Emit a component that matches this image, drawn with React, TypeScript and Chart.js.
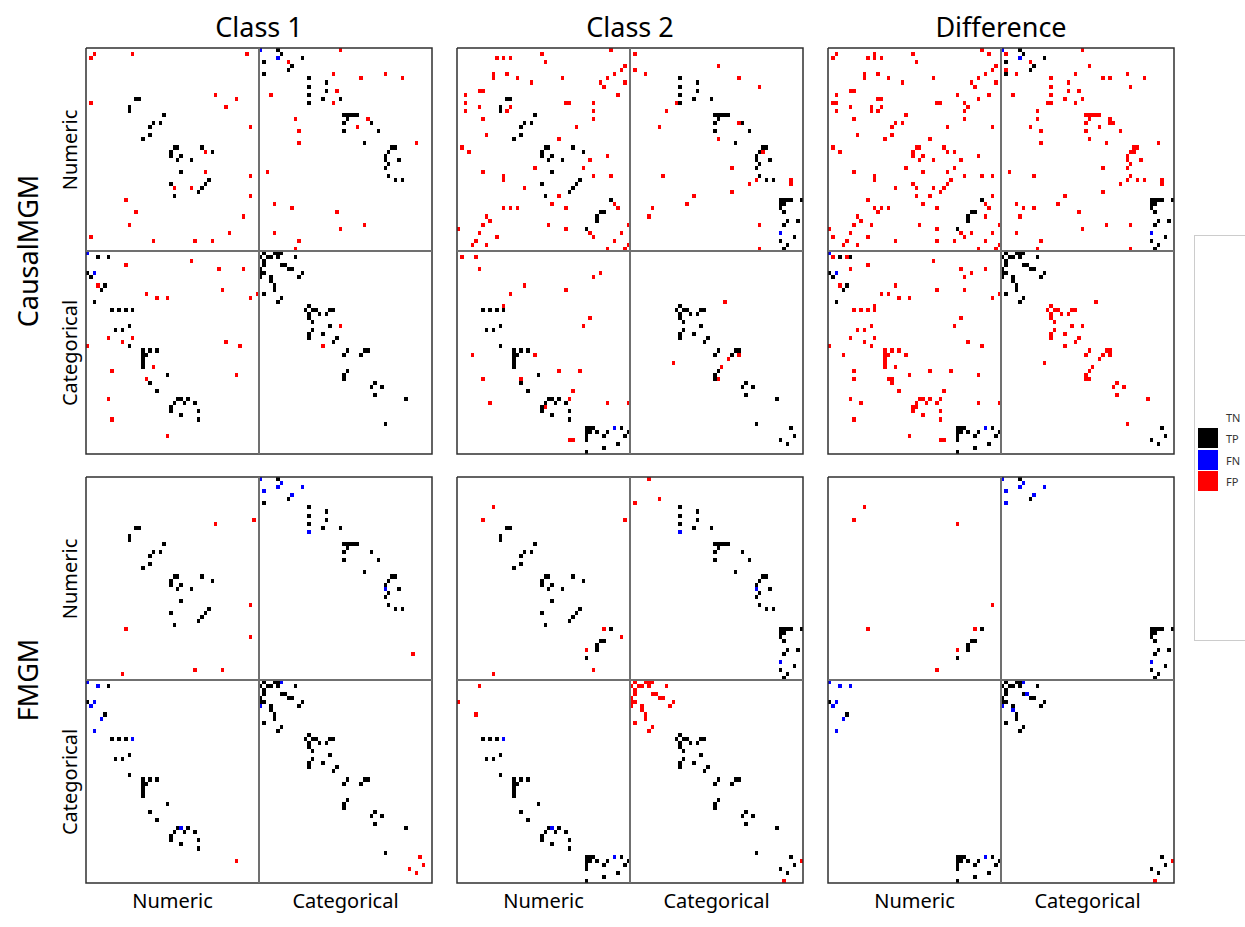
import React, { useEffect, useRef } from 'react';
import Chart from 'chart.js/auto';

type Edge = [number, number];

// ---------- labels ----------
const columnTitles = ['Class 1', 'Class 2', 'Difference'];
const rowTitles = ['CausalMGM', 'FMGM'];
const blockLabels = ['Numeric', 'Categorical'];
const legendLabels = ['TN', 'TP', 'FN', 'FP'];
const legendColors = ['#ffffff', '#000000', '#0000ff', '#ff0000'];

// matrix: 100 variables, 0-49 numeric, 50-99 categorical
const N_VARS = 100;
const SPLIT = 50;

// ---------- CausalMGM, Class 1 (upper-triangle edges [row, col]) ----------
const causalClass1TP: Edge[] = [
  [12, 14], [12, 15], [16, 22], [18, 19], [18, 21], [24, 25], [24, 26], [24, 33], [25, 36], [26, 27], [27, 30], [32, 35], [33, 34],
  [0, 55], [1, 56], [2, 62], [3, 51], [4, 59], [5, 58], [6, 51], [7, 64], [9, 64], [11, 64], [13, 64], [8, 69], [10, 69], [12, 68], [12, 73],
  [16, 74], [16, 75], [16, 76], [16, 77], [16, 78], [17, 75], [18, 74], [18, 82], [20, 74], [20, 84], [23, 80], [24, 88], [24, 89], [25, 87],
  [26, 86], [27, 86], [28, 87], [27, 90], [29, 86], [31, 87], [32, 89], [32, 91],
  [50, 51], [50, 54], [50, 55], [50, 56], [51, 52], [51, 53], [51, 55], [51, 60], [53, 56], [53, 57], [54, 58], [54, 59], [55, 62], [56, 61],
  [63, 64], [64, 65], [64, 66], [64, 70], [64, 71], [65, 67], [65, 69], [68, 70], [71, 72], [74, 75], [74, 80], [74, 81], [75, 79], [82, 83], [83, 85], [86, 92],
];
const causalClass1FN: Edge[] = [[0, 50], [2, 55]];
const causalClass1FP: Edge[] = [
  [1, 2], [1, 13], [1, 46], [11, 37], [12, 43], [14, 40], [19, 47], [25, 34], [30, 34], [31, 47], [36, 47], [41, 45],
  [0, 73], [3, 58], [6, 71], [7, 79], [6, 86], [7, 91], [10, 72], [13, 71], [11, 53], [17, 60], [17, 81], [19, 78], [20, 61], [23, 61],
  [23, 95], [30, 52], [38, 54], [39, 59], [40, 72], [44, 73], [43, 80], [45, 54], [47, 61], [49, 60],
  [68, 73],
];

// ---------- CausalMGM, Class 2 ----------
const causalClass2TP: Edge[] = [
  [12, 14], [12, 15], [16, 22], [18, 19], [18, 21], [24, 25], [24, 26], [24, 33], [25, 36], [26, 27], [27, 30], [32, 35], [33, 34],
  [37, 44], [40, 41], [40, 42],
  [7, 64], [9, 64], [11, 64], [13, 64], [8, 69], [10, 69], [12, 68], [12, 73],
  [16, 74], [16, 75], [16, 76], [16, 77], [16, 78], [17, 75], [18, 74], [18, 82], [20, 74], [20, 84], [23, 80], [24, 88], [24, 89], [25, 87],
  [26, 86], [27, 86], [28, 87], [27, 90], [29, 86], [31, 87], [32, 89], [32, 91],
  [37, 93], [37, 94], [37, 95], [37, 96], [37, 99], [38, 93], [38, 94], [39, 93], [40, 94], [42, 95], [42, 98], [43, 94], [46, 97], [47, 93], [48, 95], [49, 94],
  [63, 64], [64, 65], [64, 66], [64, 70], [64, 71], [65, 67], [65, 69], [68, 70], [71, 72], [74, 75], [74, 80], [74, 81], [75, 79], [82, 83], [83, 85], [86, 92],
  [93, 96], [95, 97],
];
const causalClass2FN: Edge[] = [[45, 93]];
const causalClass2FP: Edge[] = [
  [0, 44], [1, 24], [2, 11], [2, 13], [2, 15], [3, 25], [4, 48], [5, 47], [6, 10], [6, 14], [6, 45], [7, 10], [7, 17], [7, 30], [7, 43],
  [8, 21], [8, 41], [8, 48], [9, 42], [11, 46], [13, 31], [13, 32], [13, 39], [14, 15], [15, 39], [17, 39], [19, 34], [22, 29], [26, 43],
  [27, 38], [29, 36], [31, 39], [31, 44], [38, 45], [39, 46], [43, 49], [45, 47], [48, 49],
  [1, 51], [5, 51], [6, 54], [4, 75], [7, 81], [9, 87], [13, 63], [15, 60], [19, 58], [22, 75], [18, 81], [25, 88], [32, 86], [33, 84],
  [29, 79], [35, 79], [31, 59], [36, 68], [38, 66], [39, 56], [41, 55], [43, 87], [49, 87], [32, 96], [33, 96],
  [62, 77], [75, 81], [76, 78],
];

// ---------- CausalMGM, Difference ----------
const causalDiffTP: Edge[] = [
  [37, 44], [40, 41], [40, 42],
  [0, 55], [1, 56], [2, 62], [3, 51], [4, 59], [5, 58], [6, 51],
  [37, 93], [37, 94], [37, 95], [37, 96], [37, 99], [38, 93], [38, 94], [39, 93], [40, 94], [42, 95], [42, 98], [43, 94], [46, 97], [47, 93], [48, 95], [49, 94],
  [50, 51], [50, 54], [50, 55], [50, 56], [51, 52], [51, 53], [51, 55], [51, 60], [53, 56], [53, 57], [54, 58], [54, 59], [55, 62], [56, 61],
  [93, 96], [95, 97],
];
const causalDiffFN: Edge[] = [[0, 50], [2, 55], [45, 93]];
const causalDiffFP: Edge[] = [
  [1, 2], [1, 13], [1, 46], [11, 37], [12, 43], [14, 40], [19, 47], [25, 34], [30, 34], [31, 47], [36, 47], [41, 45],
  [0, 44], [1, 24], [2, 11], [2, 13], [2, 15], [3, 25], [4, 48], [5, 47], [6, 10], [6, 14], [6, 45], [7, 10], [7, 17], [7, 30], [7, 43],
  [8, 21], [8, 41], [8, 48], [9, 42], [11, 46], [13, 31], [13, 32], [13, 39], [14, 15], [15, 39], [17, 39], [19, 34], [22, 29], [26, 43],
  [27, 38], [29, 36], [31, 39], [31, 44], [38, 45], [39, 46], [43, 49], [45, 47], [48, 49],
  [12, 14], [12, 15], [16, 22], [18, 19], [18, 21], [24, 25], [24, 26], [24, 33], [25, 36], [26, 27], [27, 30], [32, 35], [33, 34],
  [0, 73], [3, 58], [6, 71], [7, 79], [6, 86], [7, 91], [10, 72], [13, 71], [11, 53], [17, 60], [17, 81], [19, 78], [20, 61], [23, 61],
  [23, 95], [30, 52], [38, 54], [39, 59], [40, 72], [44, 73], [43, 80], [45, 54], [47, 61], [49, 60],
  [1, 51], [5, 51], [6, 54], [4, 75], [7, 81], [9, 87], [13, 63], [15, 60], [19, 58], [22, 75], [18, 81], [25, 88], [32, 86], [33, 84],
  [29, 79], [35, 79], [31, 59], [36, 68], [38, 66], [39, 56], [41, 55], [43, 87], [49, 87], [32, 96], [33, 96],
  [7, 64], [9, 64], [11, 64], [13, 64], [8, 69], [10, 69], [12, 68], [12, 73],
  [16, 74], [16, 75], [16, 76], [16, 77], [16, 78], [17, 75], [18, 74], [18, 82], [20, 74], [20, 84], [23, 80], [24, 88], [24, 89], [25, 87],
  [26, 86], [27, 86], [28, 87], [27, 90], [29, 86], [31, 87], [32, 89], [32, 91],
  [63, 64], [64, 65], [64, 66], [64, 70], [64, 71], [65, 67], [65, 69], [68, 70], [71, 72], [74, 75], [74, 80], [74, 81], [75, 79], [82, 83], [83, 85], [86, 92],
  [68, 73], [62, 77], [75, 81], [76, 78],
];

// ---------- FMGM, Class 1 ----------
const fmgmClass1TP: Edge[] = [
  [12, 14], [12, 15], [16, 22], [18, 19], [18, 21], [24, 25], [24, 26], [24, 33], [25, 36], [26, 27], [27, 30], [32, 35], [33, 34],
  [0, 55], [5, 58], [6, 51], [7, 64], [9, 64], [11, 64], [8, 69], [10, 69], [12, 68], [12, 73],
  [16, 74], [16, 75], [16, 76], [16, 77], [16, 78], [17, 75], [18, 74], [18, 82], [20, 74], [20, 84], [23, 80], [24, 88], [24, 89], [25, 87],
  [26, 86], [28, 87], [27, 90], [29, 86], [31, 87], [32, 89], [32, 91],
  [50, 51], [50, 54], [50, 55], [51, 52], [51, 53], [51, 55], [51, 60], [53, 56], [53, 57], [54, 58], [54, 59], [55, 62], [56, 61],
  [63, 64], [64, 65], [64, 66], [64, 70], [64, 71], [65, 67], [65, 69], [68, 70], [71, 72], [74, 75], [74, 80], [74, 81], [75, 79], [82, 83], [83, 85], [86, 92],
];
const fmgmClass1FN: Edge[] = [[0, 50], [1, 56], [2, 55], [3, 51], [2, 62], [4, 59], [13, 64], [27, 86], [50, 56]];
const fmgmClass1FP: Edge[] = [[10, 48], [11, 37], [31, 47], [39, 47], [43, 94], [93, 96], [95, 97]];

// ---------- FMGM, Class 2 ----------
const fmgmClass2TP: Edge[] = [
  [12, 14], [12, 15], [16, 22], [18, 19], [18, 21], [24, 25], [24, 26], [24, 33], [25, 36], [26, 27], [27, 30], [32, 35], [33, 34],
  [37, 44], [40, 41], [40, 42],
  [7, 64], [9, 64], [11, 64], [8, 69], [10, 69], [12, 68], [12, 73],
  [16, 74], [16, 75], [16, 76], [16, 77], [16, 78], [17, 75], [18, 74], [18, 82], [20, 74], [20, 84], [23, 80], [24, 88], [24, 89], [25, 87],
  [26, 86], [28, 87], [27, 90], [29, 86], [31, 87], [32, 89], [32, 91],
  [37, 93], [37, 94], [37, 95], [37, 96], [37, 99], [38, 93], [38, 94], [39, 93], [40, 94], [42, 95], [42, 98], [43, 94], [46, 97], [47, 93], [48, 95], [49, 94],
  [63, 64], [64, 65], [64, 66], [64, 70], [64, 71], [65, 67], [65, 69], [68, 70], [71, 72], [74, 75], [74, 80], [74, 81], [75, 79], [82, 83], [83, 85], [86, 92],
  [93, 96], [95, 97],
];
const fmgmClass2FN: Edge[] = [[13, 64], [27, 86], [45, 93]];
const fmgmClass2FP: Edge[] = [
  [7, 10], [10, 48], [37, 42], [39, 47], [0, 55], [5, 58], [6, 51],
  [50, 51], [50, 54], [50, 55], [50, 56], [51, 52], [51, 53], [51, 55], [51, 60], [53, 56], [53, 57], [54, 58], [54, 59], [55, 62], [56, 61],
  [94, 99],
];

// ---------- FMGM, Difference ----------
const fmgmDiffTP: Edge[] = [
  [37, 44], [40, 41], [40, 42],
  [0, 55], [5, 58],
  [37, 93], [37, 94], [37, 95], [37, 96], [37, 99], [38, 93], [38, 94], [39, 93], [40, 94], [42, 95], [42, 98], [43, 94], [46, 97], [47, 93], [48, 95], [49, 94],
  [50, 51], [50, 54], [50, 55], [51, 52], [51, 53], [51, 55], [51, 60], [53, 56], [54, 58], [54, 59], [55, 62], [56, 61],
  [93, 96], [95, 97],
];
const fmgmDiffFN: Edge[] = [[0, 50], [1, 56], [2, 55], [3, 51], [2, 62], [4, 59], [6, 51], [45, 93], [50, 56], [53, 57]];
const fmgmDiffFP: Edge[] = [[7, 10], [11, 37], [31, 47], [37, 42], [94, 99]];

// ---------- layout ----------
const PANEL_W = 346;
const PANEL_H = 406;
const PAD = 3;
const COL_LEFT = [86, 457, 828];
const ROW_TOP = [48, 477];
const FONT = '"Noto Sans", "Open Sans", sans-serif';

const panelData = [
  [causalClass1TP, causalClass1FN, causalClass1FP],
  [causalClass2TP, causalClass2FN, causalClass2FP],
  [causalDiffTP, causalDiffFN, causalDiffFP],
  [fmgmClass1TP, fmgmClass1FN, fmgmClass1FP],
  [fmgmClass2TP, fmgmClass2FN, fmgmClass2FP],
  [fmgmDiffTP, fmgmDiffFN, fmgmDiffFP],
];

function toCells(edges: Edge[]) {
  const pts: { x: number; y: number }[] = [];
  edges.forEach(([r, c]) => {
    pts.push({ x: c + 0.5, y: r + 0.5 });
    pts.push({ x: r + 0.5, y: c + 0.5 });
  });
  return pts;
}

// draws each data cell as a crisp rectangle spanning one unit on the library's scales
const cellPlugin = {
  id: 'matrixCells',
  beforeDatasetsDraw(chart: any) {
    const { ctx } = chart;
    const xs = chart.scales.x;
    const ys = chart.scales.y;
    chart.data.datasets.forEach((ds: any, di: number) => {
      if (!ds.isCell) return;
      const meta = chart.getDatasetMeta(di);
      if (meta.hidden) return;
      ctx.save();
      ctx.fillStyle = ds.backgroundColor;
      ds.data.forEach((p: { x: number; y: number }) => {
        const x0 = Math.round(xs.getPixelForValue(p.x - 0.5));
        const x1 = Math.round(xs.getPixelForValue(p.x + 0.5));
        const ya = Math.round(ys.getPixelForValue(p.y - 0.5));
        const yb = Math.round(ys.getPixelForValue(p.y + 0.5));
        ctx.fillRect(x0, Math.min(ya, yb), x1 - x0, Math.abs(yb - ya));
      });
      ctx.restore();
    });
  },
};

function Panel({ index }: { index: number }) {
  const ref = useRef<HTMLCanvasElement>(null);
  const col = index % 3;
  const row = Math.floor(index / 3);
  useEffect(() => {
    const [tp, fn, fp] = panelData[index];
    const lineDs = (data: { x: number; y: number }[], color: string, width: number) => ({
      type: 'line' as const,
      data,
      showLine: true,
      borderColor: color,
      borderWidth: width,
      pointRadius: 0,
      fill: false,
      clip: false as any,
      tension: 0,
    });
    const chart = new Chart(ref.current as HTMLCanvasElement, {
      type: 'scatter',
      data: {
        datasets: [
          { label: 'TP', data: toCells(tp), backgroundColor: '#000000', pointRadius: 0, isCell: true } as any,
          { label: 'FN', data: toCells(fn), backgroundColor: '#0000ff', pointRadius: 0, isCell: true } as any,
          { label: 'FP', data: toCells(fp), backgroundColor: '#ff0000', pointRadius: 0, isCell: true } as any,
          lineDs([{ x: SPLIT, y: 0 }, { x: SPLIT, y: N_VARS }], '#707070', 2),
          lineDs([{ x: 0, y: SPLIT }, { x: N_VARS, y: SPLIT }], '#707070', 2),
          lineDs(
            [{ x: 0, y: 0 }, { x: N_VARS, y: 0 }, { x: N_VARS, y: N_VARS }, { x: 0, y: N_VARS }, { x: 0, y: 0 }],
            '#303030',
            1.5,
          ),
        ],
      },
      options: {
        animation: false,
        responsive: false,
        devicePixelRatio: 1,
        layout: { padding: PAD },
        events: [],
        scales: {
          x: { type: 'linear', min: 0, max: N_VARS, display: false },
          y: { type: 'linear', min: 0, max: N_VARS, reverse: true, display: false },
        },
        plugins: { legend: { display: false }, tooltip: { enabled: false }, title: { display: false } },
      },
      plugins: [cellPlugin],
    });
    return () => chart.destroy();
  }, [index]);
  return (
    <canvas
      ref={ref}
      width={PANEL_W + 2 * PAD}
      height={PANEL_H + 2 * PAD}
      style={{
        position: 'absolute',
        left: COL_LEFT[col] - PAD,
        top: ROW_TOP[row] - PAD,
        width: PANEL_W + 2 * PAD,
        height: PANEL_H + 2 * PAD,
      }}
    />
  );
}

const textBase: React.CSSProperties = {
  position: 'absolute',
  fontFamily: FONT,
  lineHeight: 1,
  whiteSpace: 'nowrap',
  color: '#000',
};

export default function App() {
  return (
    <div
      style={{
        position: 'absolute',
        left: 0,
        top: 0,
        width: 1245,
        height: 927,
        overflow: 'hidden',
        background: '#fff',
        fontFamily: FONT,
      }}
    >
      {[0, 1, 2, 3, 4, 5].map((i) => (
        <Panel key={i} index={i} />
      ))}

      {columnTitles.map((t, c) => (
        <div
          key={t}
          style={{ ...textBase, fontSize: 27, top: 13, left: COL_LEFT[c] + PANEL_W / 2, transform: 'translateX(-50%)' }}
        >
          {t}
        </div>
      ))}

      {rowTitles.map((t, r) => (
        <div
          key={t}
          style={{
            ...textBase,
            fontSize: 27,
            left: 27,
            top: ROW_TOP[r] + PANEL_H / 2,
            transform: 'translate(-50%, -50%) rotate(-90deg)',
          }}
        >
          {t}
        </div>
      ))}

      {ROW_TOP.map((top, r) =>
        blockLabels.map((t, b) => (
          <div
            key={`${r}-${t}`}
            style={{
              ...textBase,
              fontSize: 20,
              left: 70,
              top: top + PANEL_H / 4 + (b * PANEL_H) / 2,
              transform: 'translate(-50%, -50%) rotate(-90deg)',
            }}
          >
            {t}
          </div>
        )),
      )}

      {COL_LEFT.map((left, c) =>
        blockLabels.map((t, b) => (
          <div
            key={`${c}-${t}`}
            style={{
              ...textBase,
              fontSize: 20,
              top: 891,
              left: left + PANEL_W / 4 + (b * PANEL_W) / 2,
              transform: 'translateX(-50%)',
            }}
          >
            {t}
          </div>
        )),
      )}

      <div
        style={{
          position: 'absolute',
          left: 1194,
          top: 235,
          width: 120,
          height: 406,
          border: '1px solid #cccccc',
          boxSizing: 'border-box',
          background: '#fff',
        }}
      />
      {legendLabels.map((t, i) => (
        <React.Fragment key={t}>
          <div
            style={{
              position: 'absolute',
              left: 1198,
              top: 407 + i * 21.3,
              width: 20,
              height: 20,
              background: legendColors[i],
            }}
          />
          <div
            style={{
              ...textBase,
              fontSize: 11,
              color: '#333',
              left: 1226,
              top: 417 + i * 21.3,
              transform: 'translateY(-50%)',
            }}
          >
            {t}
          </div>
        </React.Fragment>
      ))}
    </div>
  );
}
